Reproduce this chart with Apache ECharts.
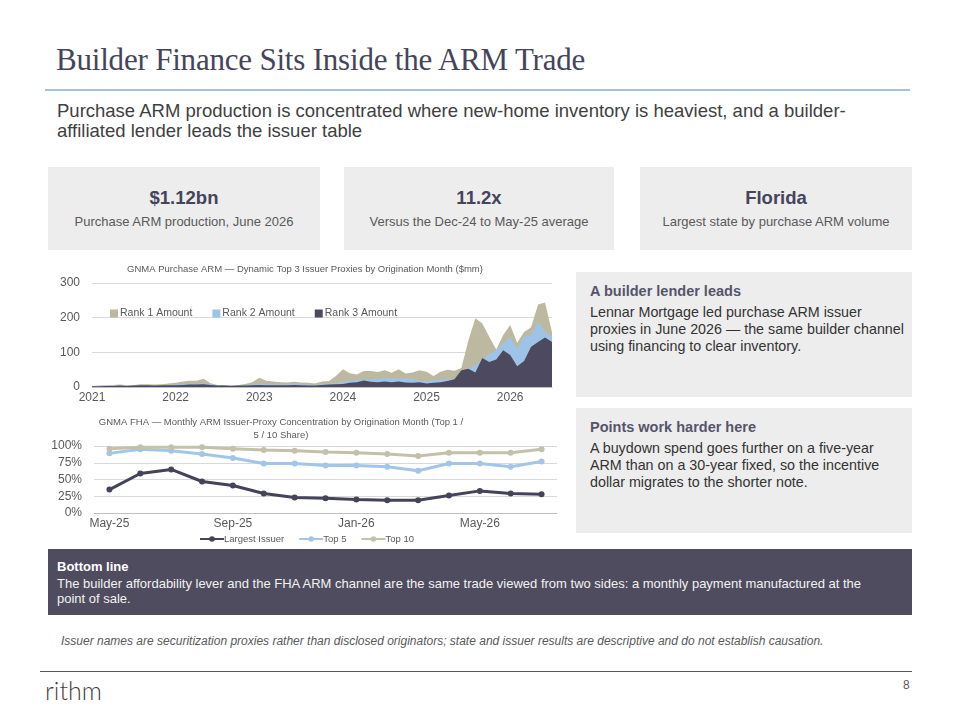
<!DOCTYPE html>
<html>
<head>
<meta charset="utf-8">
<script src="https://cdn.jsdelivr.net/npm/echarts@6/dist/echarts.min.js"></script>
<style>
  body { margin: 0; background: #fff; font-family: "Liberation Sans", Arial, sans-serif; }
  #page { position: relative; width: 960px; height: 720px; overflow: hidden; }
  .abs { position: absolute; }
  #title { left: 56px; top: 42px; font-family: "Liberation Serif", serif; font-size: 31px; color: #45445a; letter-spacing: -0.2px; }
  #rule { left: 45px; top: 89px; width: 865px; height: 2px; background: #a9c1d8; }
  #sub { left: 57px; top: 101px; width: 840px; font-size: 18.5px; line-height: 20px; color: #404040; }
  .kpi { top: 167px; height: 83px; background: #ededed; text-align: center; }
  .kpi .v { margin-top: 20px; font-size: 18.5px; font-weight: bold; color: #45445a; }
  .kpi .s { margin-top: 5px; font-size: 13px; color: #595959; }
  .panel { left: 576px; width: 336px; background: #ededed; }
  .panel .h { margin: 11px 0 0 14px; font-size: 14.5px; font-weight: bold; color: #55546a; }
  .panel .b { margin: 5px 0 0 14px; font-size: 14.3px; line-height: 17px; color: #333; width: 313px; }
  #bottom { left: 48px; top: 549px; width: 864px; height: 66px; background: #4f4c5f; color: #fff; }
  #bottom .h { margin: 10px 0 0 9px; font-size: 13px; font-weight: bold; }
  #bottom .b { margin: 2px 0 0 9px; font-size: 13px; line-height: 15px; width: 820px; color: #f2f2f2; }
  #note { left: 61px; top: 634px; font-size: 12px; font-style: italic; color: #595959; }
  #line2 { left: 40px; top: 671px; width: 872px; height: 1px; background: #595959; }
  #logo { left: 45px; top: 675px; font-family: "Lato", sans-serif; font-weight: 300; font-size: 25px; color: #3f3f3f; }
  #pg { left: 903px; top: 678px; font-size: 12px; color: #595959; }
</style>
</head>
<body>
<div id="page">
  <div class="abs" id="title">Builder Finance Sits Inside the ARM Trade</div>
  <div class="abs" id="rule"></div>
  <div class="abs" id="sub">Purchase ARM production is concentrated where new-home inventory is heaviest, and a builder-affiliated lender leads the issuer table</div>

  <div class="abs kpi" style="left:48px;width:272px"><div class="v">$1.12bn</div><div class="s">Purchase ARM production, June 2026</div></div>
  <div class="abs kpi" style="left:344px;width:270px"><div class="v">11.2x</div><div class="s">Versus the Dec-24 to May-25 average</div></div>
  <div class="abs kpi" style="left:640px;width:272px"><div class="v">Florida</div><div class="s">Largest state by purchase ARM volume</div></div>

  <div class="abs" id="armChart" style="left:48px;top:258px;width:517px;height:150px"></div>
  <div class="abs" id="fhaChart" style="left:48px;top:410px;width:517px;height:140px"></div>

  <div class="abs panel" style="top:272px;height:125px">
    <div class="h">A builder lender leads</div>
    <div class="b" style="width:319px">Lennar Mortgage led purchase ARM issuer proxies in June 2026 — the same builder channel using financing to clear inventory.</div>
  </div>
  <div class="abs panel" style="top:408px;height:125px">
    <div class="h">Points work harder here</div>
    <div class="b">A buydown spend goes further on a five-year ARM than on a 30-year fixed, so the incentive dollar migrates to the shorter note.</div>
  </div>

  <div class="abs" id="bottom">
    <div class="h">Bottom line</div>
    <div class="b">The builder affordability lever and the FHA ARM channel are the same trade viewed from two sides: a monthly payment manufactured at the point of sale.</div>
  </div>
  <div class="abs" id="note">Issuer names are securitization proxies rather than disclosed originators; state and issuer results are descriptive and do not establish causation.</div>
  <div class="abs" id="line2"></div>
  <div class="abs" id="logo">rithm</div>
  <div class="abs" id="pg">8</div>
</div>
<script>
// 发行月份 Jan-21 .. Jul-26
var armMonths = [];
for (var y = 2021; y <= 2026; y++) {
    for (var m = 1; m <= 12; m++) {
        if (y === 2026 && m > 7) break;
        armMonths.push(y + '-' + (m < 10 ? '0' + m : m));
    }
}
// $mm
var rank1Amount = [
    3, 4, 5, 6, 7, 5, 6, 8, 8, 7, 8, 10,
    12, 16, 18, 18, 24, 11, 6, 6, 5, 6, 9, 14,
    27, 18, 16, 14, 13, 15, 13, 12, 10, 16, 17, 32,
    51, 40, 36, 46, 46, 43, 48, 41, 51, 39, 42, 48,
    44, 32, 44, 50, 47, 55, 134, 198, 183, 145, 108, 150,
    179, 128, 159, 172, 238, 244, 159
];
var rank2Amount = [
    2, 3, 3, 4, 4, 4, 5, 5, 6, 6, 6, 6,
    7, 8, 9, 9, 10, 8, 5, 5, 4, 5, 6, 7,
    9, 8, 7, 7, 7, 8, 7, 7, 6, 8, 10, 12,
    15, 18, 20, 22, 22, 24, 26, 25, 24, 25, 22, 19,
    16, 20, 21, 23, 24, 41, 53, 63, 80, 95, 106, 126,
    145, 111, 145, 150, 188, 160, 145
];
var rank3Amount = [
    2, 2, 3, 3, 4, 3, 4, 5, 5, 4, 5, 5,
    5, 6, 7, 7, 8, 6, 4, 4, 3, 4, 4, 5,
    6, 5, 5, 5, 5, 6, 5, 4, 4, 6, 7, 8,
    9, 12, 14, 19, 15, 14, 16, 14, 16, 13, 12, 14,
    10, 12, 14, 17, 22, 48, 53, 42, 84, 72, 79, 106,
    92, 60, 75, 116, 130, 143, 130
];
var armYTicks = [0, 100, 200, 300];

var fhaMonths = ['May-25', 'Jun-25', 'Jul-25', 'Aug-25', 'Sep-25', 'Oct-25', 'Nov-25', 'Dec-25',
                 'Jan-26', 'Feb-26', 'Mar-26', 'Apr-26', 'May-26', 'Jun-26', 'Jul-26'];
var largestIssuer = [35, 59, 65, 47, 41, 29, 23, 22, 20, 19, 19, 26, 33, 29, 28];
var top5Share = [89, 95, 93, 88, 82, 74, 74, 71, 71, 69, 63, 74, 74, 69, 77];
var top10Share = [96, 98, 98, 98, 96, 94, 93, 91, 90, 88, 85, 90, 90, 90, 95];

var txt = '#595959';
var font = 'Liberation Sans';

var armChart = echarts.init(document.getElementById('armChart'));
var armOption = {
    color: ['#bdb9a0', '#9fc3e6', '#4d4a5f'],
    textStyle: { fontFamily: font },
    title: {
        text: 'GNMA Purchase ARM — Dynamic Top 3 Issuer Proxies by Origination Month ($mm)',
        left: 252, top: 1, textAlign: 'center',
        textStyle: { fontSize: 9.5, fontWeight: 'normal', color: txt }
    },
    legend: {
        left: 57, top: 45, itemGap: 20, itemWidth: 8, itemHeight: 8, icon: 'rect',
        textStyle: { fontSize: 10.5, color: txt, padding: [0, 0, 0, -3] },
        data: ['Rank 1 Amount', 'Rank 2 Amount', 'Rank 3 Amount']
    },
    grid: { left: 44, right: 13, top: 25, bottom: 21 },
    xAxis: {
        type: 'category',
        data: armMonths,
        boundaryGap: false,
        axisLine: { lineStyle: { color: '#bfbfbf' } },
        axisTick: { show: false },
        axisLabel: {
            color: txt, fontSize: 12, margin: 5,
            interval: function (i) { return i % 12 === 0; },
            formatter: function (v) { return v.slice(0, 4); }
        }
    },
    yAxis: {
        type: 'value',
        min: armYTicks[0], max: armYTicks[armYTicks.length - 1], interval: 100,
        axisLabel: { color: txt, fontSize: 12, margin: 12 },
        splitLine: { lineStyle: { color: '#d9d9d9' } }
    },
    series: [
        { name: 'Rank 1 Amount', type: 'line', data: rank1Amount, symbol: 'none', lineStyle: { width: 0 }, areaStyle: { opacity: 1 } },
        { name: 'Rank 2 Amount', type: 'line', data: rank2Amount, symbol: 'none', lineStyle: { width: 0 }, areaStyle: { opacity: 1 } },
        { name: 'Rank 3 Amount', type: 'line', data: rank3Amount, symbol: 'none', lineStyle: { width: 0 }, areaStyle: { opacity: 1 } }
    ]
};
armChart.setOption(armOption);

var fhaChart = echarts.init(document.getElementById('fhaChart'));
var fhaOption = {
    color: ['#45435a', '#a3c5e8', '#c4c1aa'],
    textStyle: { fontFamily: font },
    title: {
        text: 'GNMA FHA — Monthly ARM Issuer-Proxy Concentration by Origination Month (Top 1 /\n5 / 10 Share)',
        left: 228, top: 1, textAlign: 'center',
        textStyle: { fontSize: 9.5, fontWeight: 'normal', color: txt, lineHeight: 13, align: 'center' }
    },
    legend: {
        left: 146, bottom: 1, itemGap: 14, itemWidth: 24, itemHeight: 7,
        textStyle: { fontSize: 9.5, color: txt, padding: [0, 0, 0, -5] },
        data: ['Largest Issuer', 'Top 5', 'Top 10']
    },
    grid: { left: 46, right: 8, top: 36, bottom: 37 },
    xAxis: {
        type: 'category',
        data: fhaMonths,
        boundaryGap: true,
        axisLine: { lineStyle: { color: '#bfbfbf' } },
        axisTick: { show: false },
        axisLabel: { color: txt, fontSize: 12, margin: 5, interval: 3 }
    },
    yAxis: {
        type: 'value', min: 0, max: 100, interval: 25,
        axisLabel: { color: txt, fontSize: 12, margin: 12, formatter: '{value}%' },
        splitLine: { lineStyle: { color: '#d9d9d9' } }
    },
    series: [
        { name: 'Largest Issuer', type: 'line', data: largestIssuer, symbol: 'circle', symbolSize: 6, lineStyle: { width: 3 } },
        { name: 'Top 5', type: 'line', data: top5Share, symbol: 'circle', symbolSize: 6, lineStyle: { width: 3 } },
        { name: 'Top 10', type: 'line', data: top10Share, symbol: 'circle', symbolSize: 6, lineStyle: { width: 3 } }
    ]
};
fhaChart.setOption(fhaOption);
</script>
</body>
</html>
